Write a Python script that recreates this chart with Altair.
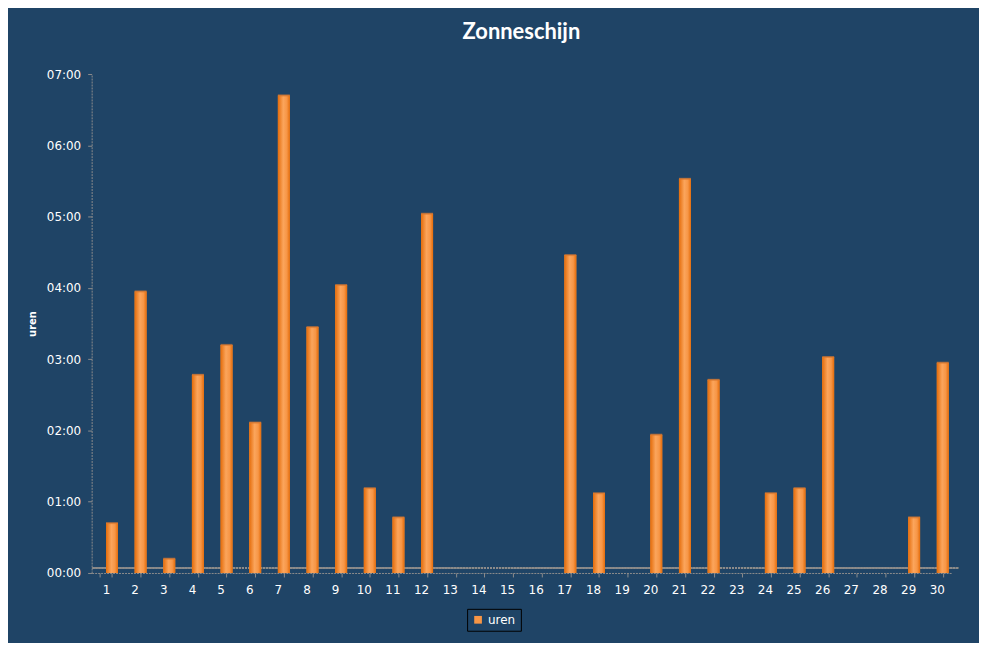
import altair as alt
import pandas as pd

days = [str(d) for d in range(1, 31)]
hours = [0.70, 3.95, 0.20, 2.78, 3.20, 2.11, 6.70, 3.45, 4.04, 1.19,
         0.78, 5.04, 0, 0, 0, 0, 4.46, 1.12, 0, 1.94,
         5.53, 2.71, 0, 1.12, 1.19, 3.03, 0, 0, 0.78, 2.95]
series = ["uren"] * 30

df = pd.DataFrame({"dag": days, "uren": hours, "reeks": series})
bars_df = df[df["uren"] > 0]

BG = "#1F4466"
ORANGE = "#F79646"
DARK = "#E46C0A"
FONT = "DejaVu Sans"

x_enc = alt.X(
    "dag:N", sort=days, title=None,
    scale=alt.Scale(domain=days, paddingInner=0.58, paddingOuter=0.29, align=0.5),
    axis=alt.Axis(labelAngle=0, labelColor="white", labelFont=FONT, labelFontSize=12,
                  labelPadding=8, domainColor="#8C8C8C", domainDash=[2, 1],
                  tickColor="#8C8C8C", tickSize=4, tickBand="extent", grid=False),
)
y_enc = alt.Y(
    "uren:Q", title="uren",
    scale=alt.Scale(domain=[0, 7], nice=False),
    axis=alt.Axis(values=[0, 1, 2, 3, 4, 5, 6, 7],
                  labelExpr="'0' + datum.value + ':00'",
                  labelColor="white", labelFont=FONT, labelFontSize=12, labelPadding=7,
                  domainColor="#8C8C8C", domainDash=[2, 1], tickColor="#8C8C8C",
                  tickSize=4, grid=False,
                  titleColor="white", titleFont=FONT, titleFontSize=10,
                  titleFontWeight="bold", titlePadding=9),
)

base = alt.Chart(bars_df)

floor = alt.Chart(df).mark_rule(color="#8C8C8C", strokeDash=[2, 1], yOffset=-5, xOffset=7).encode(
    y=alt.datum(0, type="quantitative", scale=alt.Scale(domain=[0, 7], nice=False))
)

legend_bars = base.mark_bar(size=12, xOffset=6).encode(
    x=x_enc, y=y_enc,
    color=alt.Color("reeks:N", title=None,
                    scale=alt.Scale(range=[ORANGE]),
                    legend=alt.Legend(orient="none", legendX=377, legendY=537,
                                      direction="horizontal",
                                      symbolType="square", symbolSize=60,
                                      labelColor="white", labelFont=FONT, labelFontSize=12,
                                      strokeColor="black", padding=5,
                                      symbolStrokeWidth=0)),
)

grad = alt.Gradient(
    gradient="linear", x1=0, x2=1, y1=0, y2=0,
    stops=[alt.GradientStop(color=DARK, offset=0),
           alt.GradientStop(color="#FBA55C", offset=0.45),
           alt.GradientStop(color=ORANGE, offset=0.75),
           alt.GradientStop(color=DARK, offset=1)],
)
grad_bars = base.mark_bar(size=12, xOffset=6, fill=grad).encode(x=x_enc, y=y_enc)
caps = base.mark_tick(size=12, thickness=2, xOffset=6, color="#D9782F").encode(x=x_enc, y=y_enc)

chart = alt.layer(floor, legend_bars, grad_bars, caps).properties(
    width=863, height=501,
    title=alt.TitleParams("Zonneschijn", color="white", font="Lato", fontSize=22,
                          fontWeight="bold", offset=24, anchor="middle"),
    autosize=alt.AutoSizeParams(type="none"),
    padding={"left": 84, "top": 65, "right": 28, "bottom": 69},
).configure(background=BG).configure_view(stroke=None)

chart.save("out.html", embed_options={"renderer": "svg", "actions": False})
